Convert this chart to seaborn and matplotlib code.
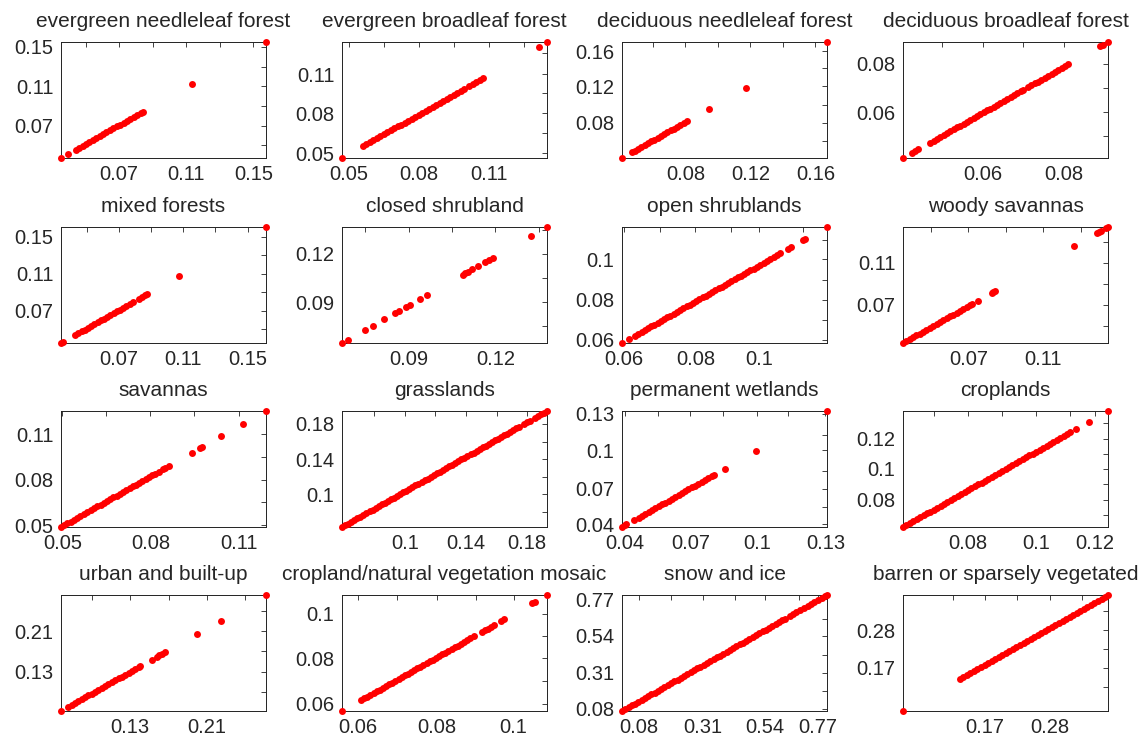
import numpy as np
import pandas as pd
import seaborn as sns
import matplotlib.pyplot as plt

# land cover classes, one panel each
titles = ['evergreen needleleaf forest', 'evergreen broadleaf forest',
          'deciduous needleleaf forest', 'deciduous broadleaf forest',
          'mixed forests', 'closed shrubland', 'open shrublands', 'woody savannas',
          'savannas', 'grasslands', 'permanent wetlands', 'croplands',
          'urban and built-up', 'cropland/natural vegetation mosaic',
          'snow and ice', 'barren or sparsely vegetated']

enf = [0.0363, 0.0403, 0.045, 0.047, 0.049, 0.051, 0.053, 0.055, 0.057, 0.059, 0.061,
       0.063, 0.065, 0.067, 0.069, 0.071, 0.073, 0.075, 0.077, 0.079, 0.081, 0.083,
       0.0844, 0.1129, 0.1566]
ebf = [0.0471, 0.056, 0.0575, 0.059, 0.0605, 0.062, 0.0635, 0.065, 0.0665, 0.068, 0.0695,
       0.071, 0.0725, 0.074, 0.0755, 0.077, 0.0785, 0.080, 0.0815, 0.083, 0.0845, 0.086,
       0.0875, 0.089, 0.0905, 0.092, 0.0935, 0.095, 0.0965, 0.098, 0.0995, 0.1017, 0.1032,
       0.1047, 0.1062, 0.1075, 0.1315, 0.1351]
dnf = [0.041, 0.0472, 0.049, 0.051, 0.053, 0.055, 0.057, 0.059, 0.061, 0.063, 0.065,
       0.067, 0.069, 0.071, 0.073, 0.075, 0.077, 0.079, 0.081, 0.0948, 0.1174, 0.1672]
dbf = [0.041, 0.0431, 0.0439, 0.0447, 0.0475, 0.0483, 0.0491, 0.0499, 0.0507, 0.0515,
       0.0523, 0.0531, 0.0539, 0.0547, 0.0555, 0.0563, 0.0571, 0.0579, 0.0587, 0.0595,
       0.0603, 0.0611, 0.0619, 0.0627, 0.0635, 0.0643, 0.0651, 0.0659, 0.0667, 0.0675,
       0.0683, 0.0691, 0.0698, 0.0709, 0.0717, 0.0725, 0.0733, 0.0741, 0.0749, 0.0757,
       0.0765, 0.0773, 0.0781, 0.0789, 0.0797, 0.0805, 0.0882, 0.0888, 0.090]
mixed = [0.0337, 0.0351, 0.0425, 0.0445, 0.0465, 0.0485, 0.0505, 0.0525, 0.0545, 0.0565,
         0.0585, 0.0605, 0.0625, 0.0645, 0.0665, 0.0685, 0.0705, 0.0725, 0.0745, 0.0765,
         0.0785, 0.0821, 0.0841, 0.0861, 0.0874, 0.1072, 0.1615]
closed = [0.0665, 0.0686, 0.0744, 0.0772, 0.0812, 0.0850, 0.0861, 0.0887, 0.0899, 0.0936,
          0.0960, 0.1084, 0.1092, 0.1102, 0.1115, 0.1135, 0.1161, 0.1175, 0.1187, 0.1321,
          0.1375]
open_sh = [0.059, 0.0611, 0.0627, 0.0636, 0.0645, 0.0654, 0.0663, 0.0672, 0.0681, 0.0690,
           0.0699, 0.0708, 0.0717, 0.0726, 0.0735, 0.0744, 0.0753, 0.0762, 0.0771, 0.0780,
           0.0789, 0.0798, 0.0807, 0.0816, 0.0825, 0.0834, 0.0843, 0.0852, 0.0861, 0.0870,
           0.0879, 0.0888, 0.0897, 0.0906, 0.0915, 0.0924, 0.0931, 0.0941, 0.0950, 0.0959,
           0.0968, 0.0978, 0.0987, 0.0997, 0.1006, 0.1015, 0.1024, 0.1034, 0.1057, 0.1064,
           0.1099, 0.1104, 0.1165]
woody = [0.034, 0.0358, 0.0376, 0.0394, 0.0412, 0.043, 0.0448, 0.0466, 0.0484, 0.0502,
         0.052, 0.0538, 0.0556, 0.0574, 0.0592, 0.061, 0.0628, 0.0646, 0.0664, 0.0682,
         0.070, 0.0709, 0.0742, 0.0816, 0.0824, 0.0834, 0.1256, 0.1383, 0.1392, 0.1405,
         0.1431, 0.144]
savanna = [0.0495, 0.0506, 0.0517, 0.0528, 0.0539, 0.0550, 0.0561, 0.0572, 0.0583, 0.0597,
           0.0608, 0.0619, 0.0630, 0.0641, 0.0652, 0.0663, 0.0674, 0.0685, 0.0696, 0.0707,
           0.0718, 0.0729, 0.0740, 0.0751, 0.0762, 0.0773, 0.0784, 0.0795, 0.0806, 0.0817,
           0.0828, 0.0842, 0.0850, 0.0863, 0.0943, 0.0970, 0.0978, 0.1043, 0.1118, 0.1195]
grass = [0.059, 0.061, 0.063, 0.065, 0.067, 0.069, 0.071, 0.073, 0.075, 0.077, 0.079,
         0.081, 0.083, 0.085, 0.087, 0.089, 0.091, 0.093, 0.095, 0.097, 0.099, 0.101,
         0.103, 0.105, 0.107, 0.109, 0.111, 0.113, 0.115, 0.117, 0.119, 0.121, 0.123,
         0.125, 0.127, 0.129, 0.131, 0.133, 0.135, 0.137, 0.139, 0.141, 0.143, 0.145,
         0.147, 0.149, 0.151, 0.153, 0.155, 0.157, 0.159, 0.161, 0.163, 0.165, 0.167,
         0.169, 0.171, 0.173, 0.175, 0.178, 0.180, 0.182, 0.185, 0.187, 0.189, 0.191, 0.193]
wetland = [0.0385, 0.0400, 0.0405, 0.0438, 0.046, 0.0475, 0.049, 0.0505, 0.052, 0.0535,
           0.055, 0.0565, 0.058, 0.0595, 0.061, 0.0625, 0.064, 0.0655, 0.067, 0.0685,
           0.070, 0.0715, 0.073, 0.0745, 0.076, 0.0775, 0.079, 0.0798, 0.0848, 0.0991, 0.131]
crop = [0.0635, 0.0645, 0.0655, 0.0665, 0.0675, 0.0685, 0.0695, 0.0705, 0.0715, 0.0725,
        0.0735, 0.0745, 0.0755, 0.0765, 0.0775, 0.0785, 0.0795, 0.0805, 0.0815, 0.0825,
        0.0835, 0.0845, 0.0855, 0.0865, 0.0875, 0.0885, 0.0895, 0.0905, 0.0915, 0.0925,
        0.0935, 0.0945, 0.0955, 0.0965, 0.0975, 0.0985, 0.0995, 0.1005, 0.1015, 0.1025,
        0.1035, 0.1045, 0.1055, 0.1065, 0.1075, 0.1085, 0.1095, 0.1105, 0.1115, 0.1125,
        0.1140, 0.1180, 0.1235]
urban = [0.0575, 0.0652, 0.0687, 0.0722, 0.0757, 0.0792, 0.0827, 0.0862, 0.0897, 0.0932,
         0.0967, 0.1002, 0.1037, 0.1072, 0.1107, 0.1142, 0.1177, 0.1212, 0.1247, 0.1282,
         0.1317, 0.1352, 0.1387, 0.1405, 0.1527, 0.1575, 0.1605, 0.1635, 0.1660, 0.1995,
         0.2246, 0.272]
mosaic = [0.0559, 0.0608, 0.0616, 0.0624, 0.0632, 0.0640, 0.0648, 0.0656, 0.0664, 0.0672,
          0.0680, 0.0688, 0.0696, 0.0704, 0.0712, 0.0720, 0.0728, 0.0736, 0.0744, 0.0752,
          0.0760, 0.0768, 0.0776, 0.0784, 0.0792, 0.0800, 0.0808, 0.0816, 0.0824, 0.0832,
          0.0840, 0.0848, 0.0856, 0.0864, 0.0872, 0.0880, 0.0888, 0.0897, 0.0917, 0.0925,
          0.0933, 0.0941, 0.0948, 0.0968, 0.0974, 0.1047, 0.1053, 0.1085]
snow = [0.080, 0.091, 0.102, 0.113, 0.124, 0.135, 0.146, 0.157, 0.168, 0.179, 0.190,
        0.201, 0.212, 0.223, 0.234, 0.245, 0.256, 0.267, 0.278, 0.289, 0.300, 0.311,
        0.322, 0.333, 0.344, 0.355, 0.366, 0.377, 0.388, 0.399, 0.410, 0.421, 0.432,
        0.443, 0.454, 0.465, 0.476, 0.487, 0.498, 0.509, 0.520, 0.531, 0.542, 0.553,
        0.564, 0.575, 0.586, 0.597, 0.608, 0.619, 0.630, 0.645, 0.656, 0.667, 0.680,
        0.691, 0.705, 0.716, 0.727, 0.740, 0.752, 0.763, 0.770]
barren = [0.031, 0.127, 0.133, 0.139, 0.145, 0.151, 0.157, 0.163, 0.169, 0.175, 0.181,
          0.187, 0.193, 0.199, 0.205, 0.211, 0.217, 0.223, 0.229, 0.235, 0.241, 0.247,
          0.253, 0.259, 0.265, 0.271, 0.277, 0.283, 0.289, 0.295, 0.301, 0.307, 0.313,
          0.319, 0.325, 0.331, 0.337, 0.343, 0.349, 0.355, 0.361, 0.367, 0.373, 0.378]

series = [enf, ebf, dnf, dbf, mixed, closed, open_sh, woody,
          savanna, grass, wetland, crop, urban, mosaic, snow, barren]

# tick labels as printed on each panel
xlabels = [['0.07', '0.11', '0.15'], ['0.05', '0.08', '0.11'], ['0.08', '0.12', '0.16'],
           ['0.06', '0.08'], ['0.07', '0.11', '0.15'], ['0.09', '0.12'],
           ['0.06', '0.08', '0.1'], ['0.07', '0.11'], ['0.05', '0.08', '0.11'],
           ['0.1', '0.14', '0.18'], ['0.04', '0.07', '0.1', '0.13'], ['0.08', '0.1', '0.12'],
           ['0.13', '0.21'], ['0.06', '0.08', '0.1'], ['0.08', '0.31', '0.54', '0.77'],
           ['0.17', '0.28']]
ylabels = xlabels

# where the ticks sit, as a fraction of the axis length
xfrac = [[0.284, 0.611, 0.938], [0.033, 0.374, 0.715], [0.309, 0.626, 0.943],
         [0.389, 0.784], [0.284, 0.595, 0.910], [0.325, 0.748], [0.008, 0.358, 0.67],
         [0.319, 0.684], [0.007, 0.436, 0.868], [0.307, 0.605, 0.902],
         [0.016, 0.333, 0.659, 0.992], [0.317, 0.649, 0.937], [0.338, 0.711],
         [0.078, 0.463, 0.837], [0.083, 0.395, 0.698, 0.956], [0.40, 0.717]]
yfrac = [[0.280, 0.617, 0.957], [0.040, 0.386, 0.720], [0.305, 0.617, 0.922],
         [0.395, 0.813], [0.280, 0.597, 0.914], [0.352, 0.769], [0.029, 0.372, 0.72],
         [0.329, 0.692], [0.014, 0.409, 0.801], [0.284, 0.586, 0.888],
         [0.023, 0.330, 0.661, 0.977], [0.233, 0.5, 0.759], [0.337, 0.689],
         [0.064, 0.455, 0.84], [0.02, 0.33, 0.647, 0.965], [0.371, 0.698]]

sns.set_style('white')
plt.rcParams['font.family'] = ['Liberation Sans', 'DejaVu Sans']

W, H = 1144, 740
lefts = [61, 342, 622, 903]
tops = [42, 227, 411, 595]
aw, ah = 205, 116


def minor_fracs(fr):
    step = (fr[1] - fr[0]) / 2
    out = []
    k = -4
    while fr[0] + k * step <= 1.0001:
        f = fr[0] + k * step
        if f >= -0.0001 and k % 2 != 0:
            out.append(f)
        k += 1
    return out


fig = plt.figure(figsize=(W / 100, H / 100), dpi=100)

for i, vals in enumerate(series):
    r, c = divmod(i, 4)
    ax = fig.add_axes([lefts[c] / W, 1 - (tops[r] + ah) / H, aw / W, ah / H])
    df = pd.DataFrame({'x': vals, 'y': vals})
    sns.scatterplot(data=df, x='x', y='y', ax=ax, color='red', s=25,
                    linewidth=0, clip_on=False, zorder=3)
    lo, hi = min(vals), max(vals)
    ax.set_xlim(lo, hi)
    ax.set_ylim(lo, hi)
    span = hi - lo
    ax.set_xticks([lo + f * span for f in xfrac[i]], xlabels[i])
    ax.set_yticks([lo + f * span for f in yfrac[i]], ylabels[i])
    ax.set_xticks([lo + f * span for f in minor_fracs(xfrac[i])], minor=True)
    ax.set_yticks([lo + f * span for f in minor_fracs(yfrac[i])], minor=True)
    ax.tick_params(which='both', direction='in', top=True, right=True,
                   length=3.5, width=0.6, color='#222222')
    ax.tick_params(axis='x', labelsize=14.5, pad=5)
    ax.tick_params(axis='y', labelsize=14.5, pad=5.5)
    ax.set_xlabel('')
    ax.set_ylabel('')
    for sp in ax.spines.values():
        sp.set_linewidth(0.7)
        sp.set_color('#222222')
    ax.set_title(titles[i], fontsize=15, pad=11)

fig.savefig('out.png', dpi=100)
